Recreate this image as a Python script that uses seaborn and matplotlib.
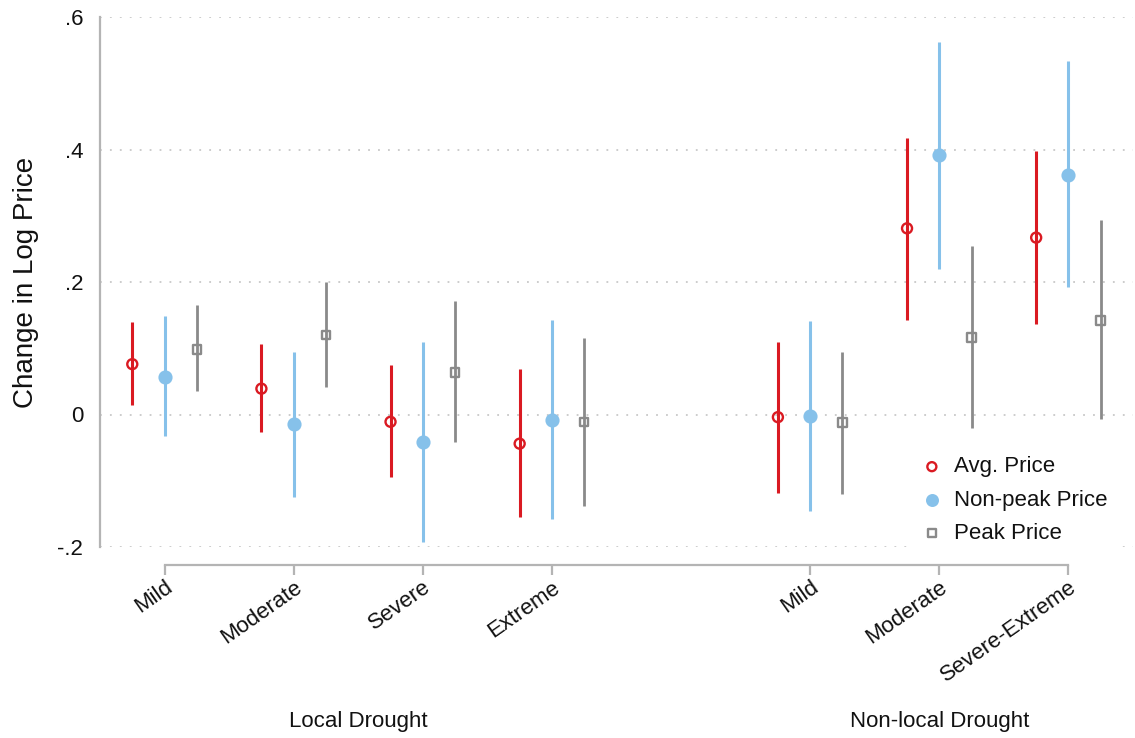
import matplotlib
matplotlib.use("Agg")
import matplotlib.pyplot as plt
from matplotlib.transforms import blended_transform_factory
import seaborn as sns
import numpy as np
import pandas as pd

# ---- data ----
categories = ["Mild", "Moderate", "Severe", "Extreme", "Mild", "Moderate", "Severe-Extreme"]
groups = ["Local Drought"] * 4 + ["Non-local Drought"] * 3
y_ticks = [-0.2, 0.0, 0.2, 0.4, 0.6]
y_tick_labels = ["-.2", "0", ".2", ".4", ".6"]

series_names = ["Avg. Price", "Non-peak Price", "Peak Price"]

avg_est = [0.076, 0.039, -0.011, -0.044, -0.004, 0.281, 0.267]
avg_lo = [0.014, -0.027, -0.095, -0.155, -0.118, 0.143, 0.136]
avg_hi = [0.139, 0.107, 0.075, 0.068, 0.110, 0.418, 0.398]

nonpeak_est = [0.057, -0.015, -0.041, -0.008, -0.003, 0.391, 0.362]
nonpeak_lo = [-0.032, -0.125, -0.192, -0.157, -0.146, 0.220, 0.192]
nonpeak_hi = [0.148, 0.095, 0.110, 0.142, 0.141, 0.563, 0.534]

peak_est = [0.098, 0.120, 0.063, -0.011, -0.012, 0.116, 0.142]
peak_lo = [0.035, 0.041, -0.042, -0.138, -0.120, -0.021, -0.007]
peak_hi = [0.165, 0.200, 0.171, 0.115, 0.095, 0.255, 0.293]

# ---- layout / style ----
sns.set_theme(style="white")
plt.rcParams["font.family"] = ["Liberation Sans", "DejaVu Sans"]

RED = "#DA1A22"
BLUE = "#86C1EA"
GREY = "#8A8A8A"
SPINE = "#B4B4B4"
TXT = "#111111"

group_names = list(dict.fromkeys(groups))
group_idx = np.array([group_names.index(g) for g in groups])
positions = np.arange(len(categories)) + 1 + group_idx  # gap of one slot between groups

series = [
    dict(name=series_names[0], est=avg_est, lo=avg_lo, hi=avg_hi, color=RED,
         marker="o", fill="none", s=52, off=-0.25, lw=2.2),
    dict(name=series_names[1], est=nonpeak_est, lo=nonpeak_lo, hi=nonpeak_hi, color=BLUE,
         marker="o", fill=BLUE, s=72, off=0.0, lw=2.2),
    dict(name=series_names[2], est=peak_est, lo=peak_lo, hi=peak_hi, color=GREY,
         marker="s", fill="none", s=38, off=0.25, lw=2.0),
]

fig = plt.figure(figsize=(11.35, 7.38), dpi=100)
ax = fig.add_axes([100 / 1135, 1 - 547 / 738, (1133 - 100) / 1135, (547 - 17) / 738])

for sr in series:
    df = pd.DataFrame({
        "x": positions + sr["off"],
        "est": sr["est"],
        "lo": sr["lo"],
        "hi": sr["hi"],
    })
    ax.vlines(df["x"], df["lo"], df["hi"], color=sr["color"], lw=sr["lw"], zorder=2)
    sns.scatterplot(data=df, x="x", y="est", ax=ax, marker=sr["marker"], s=sr["s"],
                    facecolor=sr["fill"], edgecolor=sr["color"],
                    linewidth=1.7, label=sr["name"], zorder=3)

ax.set_xlim(0.5, 8.5)
ax.set_ylim(-0.2, 0.6)
ax.set_yticks(y_ticks)
ax.set_yticklabels(y_tick_labels)
ax.set_xticks(positions)
ax.set_xticklabels(categories)
ax.set_xlabel("")
ax.set_ylabel("Change in Log Price", fontsize=20, color=TXT)
ax.yaxis.set_label_coords(-0.059, 0.5)

ax.grid(axis="y", linestyle=(0, (1, 4.5)), color="#C8C8C8", linewidth=1.3)
ax.grid(axis="x", visible=False)
ax.set_axisbelow(True)

for side in ["top", "right"]:
    ax.spines[side].set_visible(False)
ax.spines["left"].set_color(SPINE)
ax.spines["left"].set_linewidth(1.6)
ax.spines["bottom"].set_color(SPINE)
ax.spines["bottom"].set_linewidth(1.6)
ax.spines["bottom"].set_position(("outward", 13))
ax.spines["bottom"].set_bounds(positions[0], positions[-1])

ax.tick_params(axis="both", which="both", direction="out", color=SPINE, width=1.6,
               length=7, labelsize=16, labelcolor=TXT)
ax.tick_params(axis="y", pad=5)
ax.tick_params(axis="x", pad=1.5, bottom=True)
for lab in ax.get_xticklabels():
    lab.set_rotation(35)
    lab.set_horizontalalignment("right")
    lab.set_rotation_mode("anchor")

# group labels under the categories
trans = blended_transform_factory(ax.transData, fig.transFigure)
for g in group_names:
    gp = positions[group_idx == group_names.index(g)]
    ax.text((gp.min() + gp.max()) / 2, 1 - 721 / 738, g, transform=trans,
            ha="center", va="center", fontsize=16, color=TXT)

leg = ax.legend(loc="lower right", bbox_to_anchor=(0.984, -0.011), borderaxespad=0,
                frameon=True, fontsize=16, handletextpad=0.5, labelspacing=0.55,
                borderpad=0.4, handlelength=1.0, markerscale=0.9)
leg.get_frame().set_facecolor("white")
leg.get_frame().set_edgecolor("white")
leg.get_frame().set_alpha(1)
for t in leg.get_texts():
    t.set_color(TXT)

fig.savefig("out.png", dpi=100)
